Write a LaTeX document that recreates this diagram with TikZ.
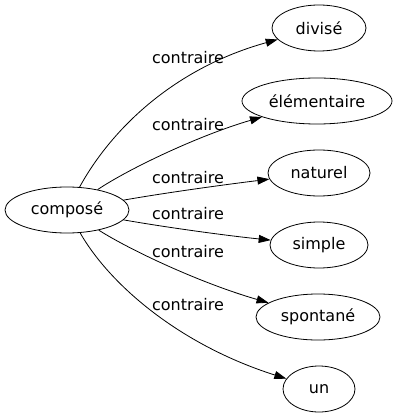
\documentclass[tikz,border=0pt]{standalone}
\usepackage{fontspec}
\setmainfont{DejaVu Sans}
\usetikzlibrary{shapes.geometric, arrows.meta}

\tikzset{
	word/.style = {ellipse, draw, line width = 0.8pt, inner sep = 0pt, minimum height = 46pt},
	rel/.style = {font = \fontsize{16}{19}\selectfont}
}

\begin{document}
\begin{tikzpicture}
			[x = 1pt, y = -1pt, font = \fontsize{16}{19}\selectfont]
			\useasboundingbox (0,0) rectangle (401,419);
			\node[word, minimum width = 124pt] (compose) at (67,210) {composé};
			\node[word, minimum width = 94pt] (divise) at (319,28) {divisé};
			\node[word, minimum width = 150pt] (elementaire) at (317,101) {élémentaire};
			\node[word, minimum width = 102pt] (naturel) at (319,173) {naturel};
			\node[word, minimum width = 98pt] (simple) at (319,245) {simple};
			\node[word, minimum width = 124pt] (spontane) at (318,317) {spontané};
			\node[word, minimum width = 72pt] (un) at (319,389) {un};
			\begin{scope}[line width = 0.8pt, -{Triangle[length = 12pt, width = 8pt]}]
				\draw (compose) .. controls (112,128) and (175,68) .. (divise);
				\draw (compose) .. controls (130,168) and (200,135) .. (elementaire);
				\draw (compose) .. controls (170,192) and (230,184) .. (naturel);
				\draw (compose) .. controls (170,228) and (230,236) .. (simple);
				\draw (compose) .. controls (130,250) and (200,283) .. (spontane);
				\draw (compose) .. controls (110,285) and (180,345) .. (un);
			\end{scope}
			\node[rel] (rel1) at (188,58) {contraire};
			\node[rel] (rel2) at (188,125) {contraire};
			\node[rel] (rel3) at (188,178) {contraire};
			\node[rel] (rel4) at (188,214) {contraire};
			\node[rel] (rel5) at (188,252) {contraire};
			\node[rel] (rel6) at (188,305) {contraire};
		\end{tikzpicture}
\end{document}
